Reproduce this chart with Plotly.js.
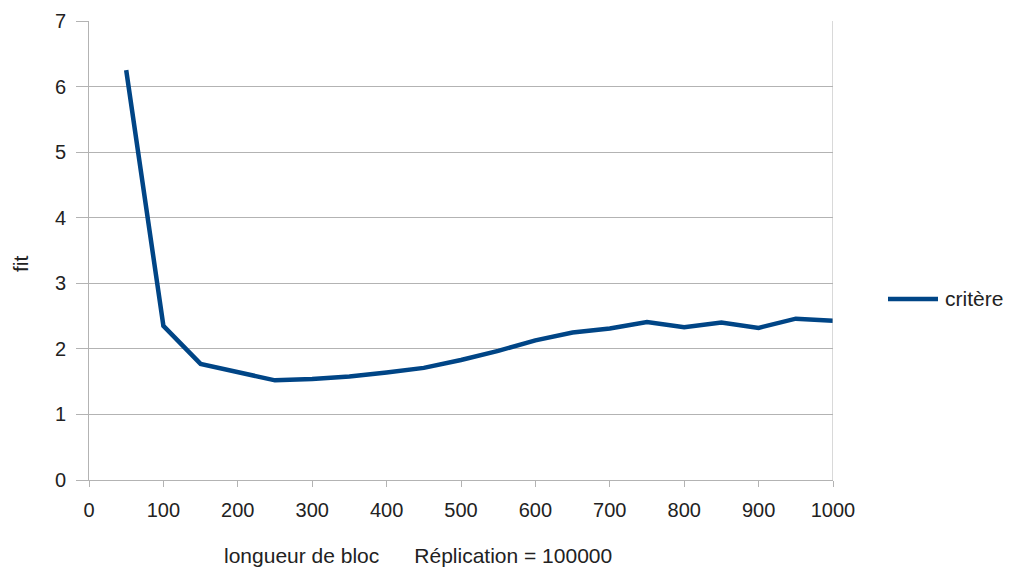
<!DOCTYPE html>
<html>
<head>
<meta charset="utf-8">
<script src="https://cdn.plot.ly/plotly-3.0.1.min.js"></script>
<style>html,body{margin:0;padding:0;background:#fff;}#chart{width:1014px;height:569px;}</style>
</head>
<body>
<div id="chart"></div>
<script>
const blockLength = [50,100,150,200,250,300,350,400,450,500,550,600,650,700,750,800,850,900,950,1000];
const fitValues = [6.25,2.35,1.77,1.65,1.52,1.54,1.58,1.64,1.71,1.83,1.97,2.13,2.25,2.31,2.41,2.33,2.40,2.32,2.46,2.43];
const seriesName = 'critère';
const xTitle = 'longueur de bloc      Réplication = 100000';
const yTitle = 'fit';

const lineColor = '#004586';
const tickFont = {family: 'Liberation Sans, Arial, sans-serif', size: 20, color: '#222'};
const textFont = {family: 'Liberation Sans, Arial, sans-serif', size: 21, color: '#222'};

// pixel -> paper helpers for plot area l=89, r=833, t=21, b=480
const px = v => (v - 89) / 744;
const py = v => (480 - v) / 459;

Plotly.newPlot('chart', [{
  x: blockLength, y: fitValues, type: 'scatter', mode: 'lines', name: seriesName,
  line: {color: lineColor, width: 4.5}
}], {
  width: 1014, height: 569,
  margin: {l: 89, r: 181, t: 21, b: 89},
  paper_bgcolor: '#fff', plot_bgcolor: '#fff',
  font: textFont,
  showlegend: false,
  xaxis: {range: [0, 1000], dtick: 100, tick0: 0, showgrid: false, zeroline: false,
    showline: true, linecolor: '#b3b3b3', linewidth: 1, ticks: 'outside', ticklen: 6, tickcolor: '#b3b3b3',
    tickfont: tickFont, ticklabelstandoff: 6, fixedrange: true},
  yaxis: {range: [0, 7], dtick: 1, tick0: 0, showgrid: true, gridcolor: '#b3b3b3', gridwidth: 1, zeroline: false,
    showline: true, linecolor: '#b3b3b3', linewidth: 1, ticks: 'outside', ticklen: 12, tickcolor: '#b3b3b3',
    tickfont: tickFont, ticklabelstandoff: 6, fixedrange: true},
  shapes: [
    {type: 'line', xref: 'x', yref: 'paper', x0: 1000, x1: 1000, y0: 0, y1: 1, line: {color: '#b3b3b3', width: 1}},
    {type: 'line', xref: 'paper', yref: 'paper', x0: px(888), x1: px(938), y0: py(299), y1: py(299), line: {color: lineColor, width: 4.5}}
  ],
  annotations: [
    {text: xTitle, xref: 'paper', yref: 'paper', x: px(418), y: py(555), xanchor: 'center', yanchor: 'middle', showarrow: false, font: textFont},
    {text: yTitle, xref: 'paper', yref: 'paper', x: px(20), y: py(264), xanchor: 'center', yanchor: 'middle', textangle: -90, showarrow: false, font: textFont},
    {text: seriesName, xref: 'paper', yref: 'paper', x: px(943), y: py(299), xanchor: 'left', yanchor: 'middle', showarrow: false, font: textFont}
  ]
}, {displayModeBar: false, staticPlot: true});
</script>
</body>
</html>
